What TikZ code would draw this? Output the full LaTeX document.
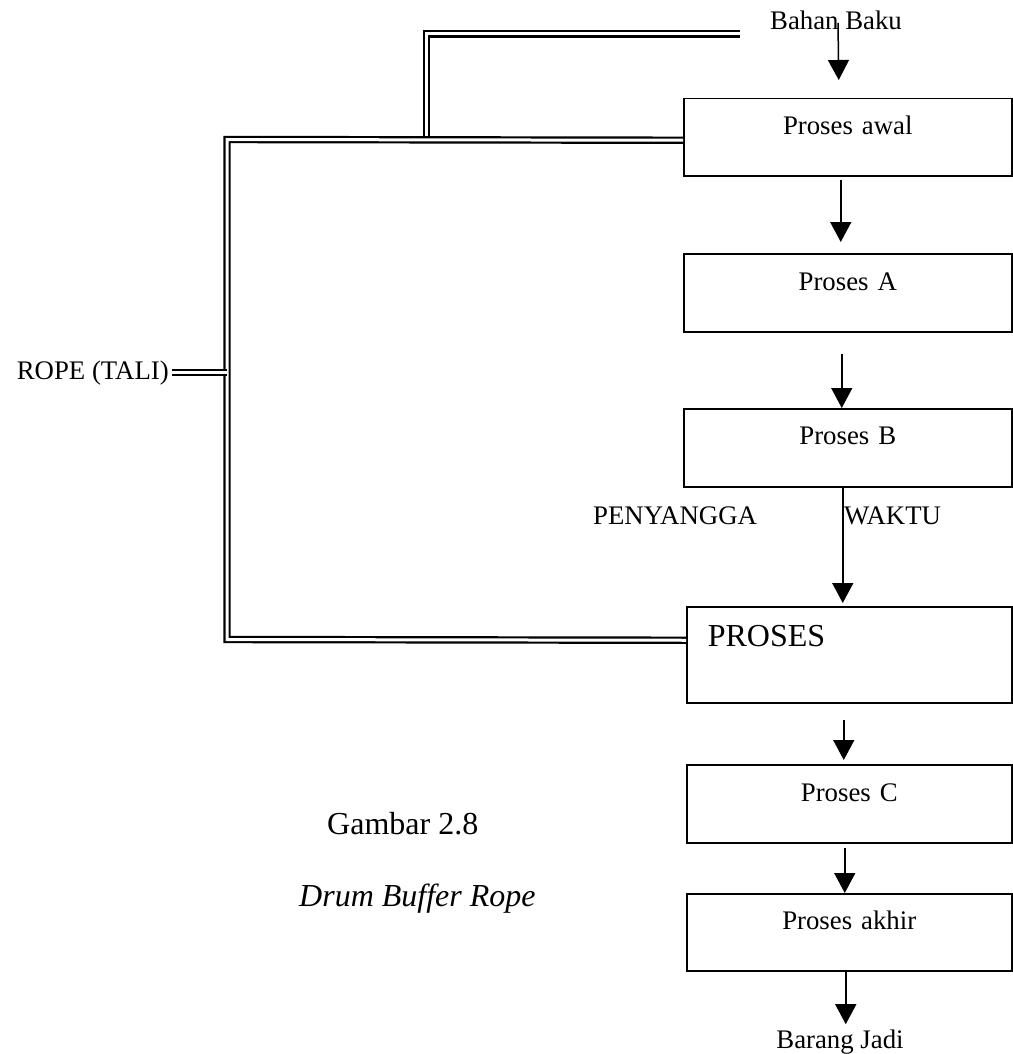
\documentclass[tikz,border=0pt]{standalone}
\usepackage{fontspec}
\setmainfont{Liberation Serif}
\usetikzlibrary{arrows.meta}
\newcommand\ftn{\fontsize{26.8pt}{30pt}\selectfont}
\newcommand\ftb{\fontsize{32pt}{36pt}\selectfont}
\begin{document}
\begin{tikzpicture}[x=1pt,y=-1pt,
  box/.style={draw, line width=1.5pt, anchor=north west, inner sep=0pt, text width=328pt, align=center, font=\ftn},
  rope/.style={double, line width=2.2pt, double distance=3pt},
  arr/.style={-{Triangle[width=21pt,length=20pt]}, line width=1.5pt},
  lbl/.style={inner sep=0pt, font=\ftn},
  blbl/.style={inner sep=0pt, font=\ftb}]
\useasboundingbox (0,0) rectangle (1012,1054);

% boxes
\node[box, text height=36pt, text depth=41pt] (awal) at (683,98) {Proses awal};
\node[box, text height=37pt, text depth=41pt] (pa) at (683,253) {Proses A};
\node[box, text height=36pt, text depth=42pt] (pb) at (683,408) {Proses B};
\node[box, text width=283pt, inner xsep=21pt, align=left, font=\ftb, text height=39.5pt, text depth=56.5pt] (proses) at (686,606) {PROSES};
\node[box, text width=325pt, text height=37pt, text depth=41pt] (pc) at (686,764) {Proses C};
\node[box, text width=325pt, text height=36pt, text depth=41pt] (pakhir) at (686,893) {Proses akhir};

% labels
\node[lbl, anchor=base] (bahan) at (836,30) {Bahan Baku};
\node[lbl, anchor=base] (barang) at (840,1048) {Barang Jadi};
\node[lbl, anchor=base east] (ropelbl) at (169,379) {ROPE (TALI)};
\node[lbl, anchor=base west] (peny) at (593,524) {PENYANGGA};
\node[lbl, anchor=base west] (waktu) at (844,524) {WAKTU};
\node[blbl, anchor=base west] (gambar) at (327,834) {Gambar 2.8};
\node[blbl, anchor=base west] (drb) at (299,906) {\itshape Drum Buffer Rope};

% rope (double lines)
\coordinate (tend) at (740,34);
\coordinate (tcorner) at (426.5,34);
\coordinate (tjoin) at (426.5,139.5);
\coordinate (lt) at (227,139.5);
\coordinate (lb) at (227,639.5);
\coordinate (rj) at (ropelbl.east -| lt);
\draw[rope] (tend) -- (tcorner) -- (tjoin);
\draw[rope] ([yshift=-3pt]awal.west) -- (lt) -- (lb) -- ([yshift=14.5pt]proses.west);
\draw[rope] ([xshift=3pt]ropelbl.east) -- (rj);

% flow arrows
\draw[arr] ([xshift=2pt,yshift=-2pt]bahan.center) -- ([xshift=-9pt,yshift=18pt]awal.north);
\draw[arr] ([xshift=-7pt,yshift=-3pt]awal.south) -- ([xshift=-7pt,yshift=11pt]pa.north);
\draw[arr] ([xshift=-6pt,yshift=-21pt]pa.south) -- ([xshift=-6pt]pb.north);
\draw[arr] ([xshift=-5pt]pb.south) -- ([xshift=-6.5pt,yshift=3pt]proses.north);
\draw[arr] ([xshift=-5.5pt,yshift=-16pt]proses.south) -- ([xshift=-5.5pt,yshift=4pt]pc.north);
\draw[arr] ([xshift=-4.5pt,yshift=-4pt]pc.south) -- ([xshift=-4.5pt]pakhir.north);
\draw[arr] ([xshift=-3.5pt]pakhir.south) -- ([xshift=-3.5pt,yshift=5pt]pakhir.south |- barang.north);
\end{tikzpicture}
\end{document}
